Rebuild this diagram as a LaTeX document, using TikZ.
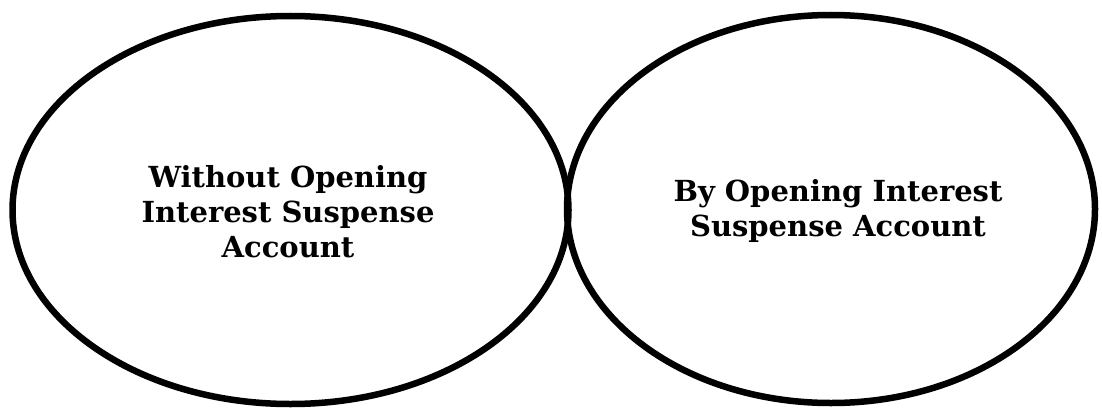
\documentclass[tikz,border=0pt]{standalone}
\usepackage{fontspec}
\setmainfont{DejaVu Serif}
\usetikzlibrary{shapes.geometric}

\begin{document}
\begin{tikzpicture}[
  x=1pt, y=1pt,
  line cap=round,
  line join=round,
  every node/.style={font=\fontsize{29}{35}\selectfont\bfseries, align=center},
  oval/.style={draw, ellipse, line width=6.5pt, inner sep=0pt}
]
  \useasboundingbox (0,0) rectangle (1102,408);

  \coordinate (L) at (290.5,198);
  \coordinate (R) at (831,199);

  % Два овала
  \node[oval, minimum width=556pt, minimum height=388pt] (without) at (L) {};
  \node[oval, minimum width=528pt, minimum height=388pt] (by) at (R) {};

  % Подписи
  \node (withouttext) at (288,196)
    {Without Opening\\Interest Suspense\\Account};
  \node (bytext) at (838,197)
    {By Opening Interest\\Suspense Account};
\end{tikzpicture}
\end{document}
